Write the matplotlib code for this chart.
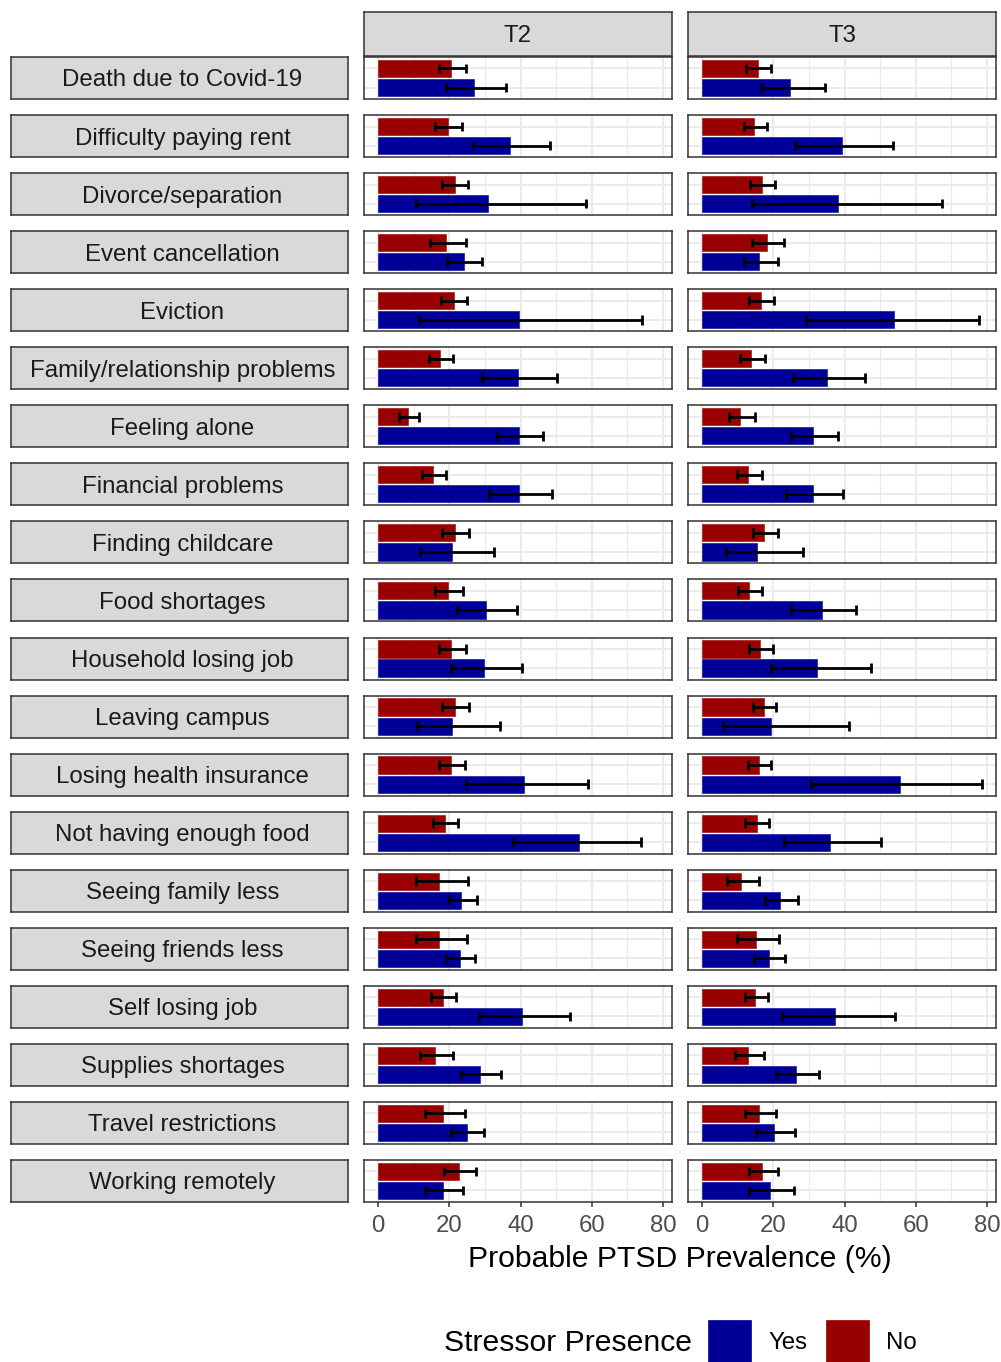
import matplotlib
matplotlib.use("Agg")
import matplotlib.pyplot as plt
from matplotlib.patches import Rectangle

plt.rcParams['font.family'] = ['Liberation Sans', 'DejaVu Sans']

# ---- data -------------------------------------------------------------
stressors = [
    "Death due to Covid-19", "Difficulty paying rent", "Divorce/separation",
    "Event cancellation", "Eviction", "Family/relationship problems",
    "Feeling alone", "Financial problems", "Finding childcare",
    "Food shortages", "Household losing job", "Leaving campus",
    "Losing health insurance", "Not having enough food", "Seeing family less",
    "Seeing friends less", "Self losing job", "Supplies shortages",
    "Travel restrictions", "Working remotely",
]
times = ["T2", "T3"]
presence_labels = ["Yes", "No"]

# T2 estimates with 95% CI (%), stressor absent ("No") and present ("Yes")
t2_no    = [20.6, 19.7, 21.5, 19.2, 21.3, 17.5, 8.4, 15.5, 21.7, 19.7,
            20.4, 21.7, 20.5, 18.9, 17.2, 17.0, 18.1, 16.0, 18.2, 22.8]
t2_no_lo = [17.0, 16.1, 18.0, 14.5, 17.7, 14.3, 6.0, 12.3, 18.0, 16.1,
            17.0, 18.0, 17.2, 15.5, 10.7, 10.6, 14.9, 11.8, 13.1, 18.4]
t2_no_hi = [24.8, 23.7, 25.2, 24.8, 25.0, 21.1, 11.4, 19.1, 25.5, 23.9,
            24.6, 25.5, 24.3, 22.5, 25.2, 25.1, 21.8, 21.0, 24.3, 27.5]
t2_yes    = [26.8, 37.0, 30.9, 24.0, 39.7, 39.4, 39.7, 39.7, 20.8, 30.2,
             29.8, 20.9, 40.9, 56.5, 23.4, 22.9, 40.5, 28.6, 24.9, 18.1]
t2_yes_lo = [19.0, 26.7, 10.6, 19.4, 11.5, 29.3, 33.3, 31.1, 11.7, 22.3,
             20.4, 10.9, 24.6, 37.9, 19.8, 19.2, 28.3, 23.2, 20.4, 13.1]
t2_yes_hi = [35.9, 48.3, 58.5, 29.1, 74.0, 50.2, 46.2, 48.7, 32.6, 38.9,
             40.5, 34.3, 58.8, 73.9, 27.7, 27.3, 53.9, 34.5, 29.8, 23.9]

# T3 estimates with 95% CI (%)
t3_no    = [15.7, 14.7, 16.8, 18.2, 16.5, 13.8, 10.8, 12.9, 17.5, 13.1,
            16.3, 17.3, 16.1, 15.3, 10.9, 15.1, 15.0, 12.8, 16.0, 16.9]
t3_no_lo = [12.3, 11.7, 13.6, 14.0, 13.3, 10.7, 7.6, 9.7, 14.2, 10.1,
            13.1, 14.2, 13.0, 12.1, 6.9, 9.9, 12.1, 9.3, 12.0, 13.2]
t3_no_hi = [19.5, 18.1, 20.4, 23.1, 20.2, 17.6, 15.0, 16.9, 21.3, 16.9,
            20.0, 20.9, 19.5, 18.9, 16.1, 21.6, 18.4, 17.3, 20.7, 21.3]
t3_yes    = [24.7, 39.3, 38.1, 16.0, 54.0, 35.0, 31.1, 31.1, 15.5, 33.6,
             32.2, 19.3, 55.6, 35.8, 22.0, 18.7, 37.3, 26.3, 20.2, 19.0]
t3_yes_lo = [16.6, 26.0, 14.0, 11.8, 29.1, 25.4, 25.0, 23.6, 6.8, 25.0,
             19.4, 5.8, 30.7, 23.0, 17.7, 14.7, 22.5, 20.7, 15.2, 13.2]
t3_yes_hi = [34.4, 53.7, 67.3, 21.3, 77.7, 45.7, 38.2, 39.6, 28.3, 43.2,
             47.4, 41.2, 78.7, 50.3, 26.9, 23.2, 54.1, 32.8, 26.0, 25.7]

x_ticks = [0, 20, 40, 60, 80]
x_minor = [10, 30, 50, 70]

# ---- styling ----------------------------------------------------------
W, H = 1001, 1362
COL_NO, COL_YES = "#990000", "#000099"
STRIP_BG, FRAME = "#D9D9D9", "#333333"
GRID = "#EBEBEB"
SMALL, BASE = 17.3, 21.7
EB_LW = 2.0

fig = plt.figure(figsize=(W / 100, H / 100), dpi=100)
fig.patch.set_facecolor("white")


def rect(x0, y0, x1, y1):
    return [x0 / W, 1 - y1 / H, (x1 - x0) / W, (y1 - y0) / H]


def strip(x0, y0, x1, y1, label, drop=2.5, shift=0.0):
    sa = fig.add_axes(rect(x0, y0, x1, y1))
    sa.set_facecolor(STRIP_BG)
    sa.set_xticks([])
    sa.set_yticks([])
    for s in sa.spines.values():
        s.set_color(FRAME)
        s.set_linewidth(1.1)
    sa.text(0.5 + shift / (x1 - x0), 0.5 - drop / (y1 - y0), label,
            ha="center", va="center", fontsize=SMALL, color="#1A1A1A",
            transform=sa.transAxes)
    return sa


col_x = [(364, 672), (688, 996)]
row_top, row_h, row_pitch = 57, 42, 58.05

data = {
    "T2": (t2_no, t2_no_lo, t2_no_hi, t2_yes, t2_yes_lo, t2_yes_hi),
    "T3": (t3_no, t3_no_lo, t3_no_hi, t3_yes, t3_yes_lo, t3_yes_hi),
}

# column strips
for (x0, x1), t in zip(col_x, times):
    strip(x0, 12, x1, 56, t, drop=2.0)

n = len(stressors)
for i, name in enumerate(stressors):
    y0 = row_top + i * row_pitch
    y1 = y0 + row_h
    strip(11, y0, 348, y1, name, shift=3.0)
    for (x0, x1), t in zip(col_x, times):
        no, no_lo, no_hi, yes, yes_lo, yes_hi = data[t]
        ax = fig.add_axes(rect(x0, y0, x1, y1))
        ax.set_facecolor("white")
        ax.set_axisbelow(True)
        ax.set_xlim(-3.93, 82.5)
        ax.set_ylim(2.6, 0.4)
        ax.set_xticks(x_ticks)
        ax.set_xticks(x_minor, minor=True)
        ax.set_yticks([1, 2])
        ax.grid(which="major", color=GRID, linewidth=1.5)
        ax.grid(which="minor", axis="x", color=GRID, linewidth=0.8)
        ax.tick_params(which="minor", length=0)
        ax.tick_params(axis="y", length=0, labelleft=False)
        for s in ax.spines.values():
            s.set_color(FRAME)
            s.set_linewidth(1.1)

        vals = [no[i], yes[i]]
        los = [no_lo[i], yes_lo[i]]
        his = [no_hi[i], yes_hi[i]]
        cols = [COL_NO, COL_YES]
        for yy, v, lo, hi, c in zip([1, 2], vals, los, his, cols):
            ax.barh(yy, v, height=0.9, color=c, edgecolor=c, linewidth=0.4)
            ax.hlines(yy, lo, hi, color="black", linewidth=EB_LW)
            ax.vlines([lo, hi], yy - 0.25, yy + 0.25, color="black",
                      linewidth=EB_LW)

        if i == n - 1:
            ax.tick_params(axis="x", which="major", length=3.6, width=1.1,
                           color=FRAME, labelcolor="#4D4D4D",
                           labelsize=SMALL, pad=6)
        else:
            ax.tick_params(axis="x", which="major", length=0,
                           labelbottom=False)

# axis title
fig.text(680 / W, 1 - 1259 / H, "Probable PTSD Prevalence (%)",
         ha="center", va="center", fontsize=BASE, color="black")

# legend
fig.text(444 / W, 1 - 1343 / H, "Stressor Presence", ha="left",
         va="center", fontsize=BASE, color="black")
key_cols = [COL_YES, COL_NO]
key_x = [708, 826]
for kx, kc, lab in zip(key_x, key_cols, presence_labels):
    fig.add_artist(Rectangle((kx / W, 0), 43 / W, 42 / H,
                             transform=fig.transFigure, facecolor=kc,
                             edgecolor=kc, linewidth=0.5))
    fig.text((kx + 60) / W, 1 - 1343 / H, lab, ha="left", va="center",
             fontsize=SMALL, color="black")

fig.savefig("out.png", dpi=100, facecolor="white")
